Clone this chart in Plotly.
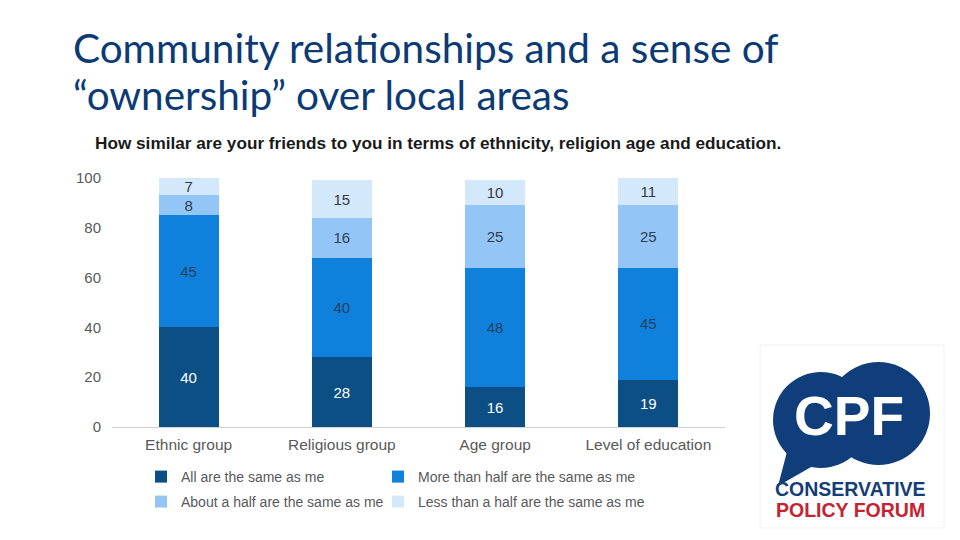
import plotly.graph_objects as go

categories = ["Ethnic group", "Religious group", "Age group", "Level of education"]
series_names = [
    "All are the same as me",
    "More than half are the same as me",
    "About a half are the same as me",
    "Less than a half are the same as me",
]
all_same = [40, 28, 16, 19]
more_than_half = [45, 40, 48, 45]
about_half = [8, 16, 25, 25]
less_than_half = [7, 15, 10, 11]
y_ticks = [0, 20, 40, 60, 80, 100]

colors = ["#0b4f85", "#0f81dd", "#93c6f6", "#d4e8fb"]
text_colors = ["#ffffff", "#23405f", "#2e3d50", "#333a44"]
legend_ids = ["legend", "legend2", "legend3", "legend4"]

W, H = 960, 540
OFF = 8  # page body margin
PL, PR, PT, PB = 112, 725, 178, 427
L, R, T, B = PL - OFF, W - (PR - OFF), PT - OFF, H - (PB - OFF)
PW, PH = W - L - R, H - T - B


def px(x):
    return (x - OFF - L) / PW


def py(y):
    return (H - B - (y - OFF)) / PH


fig = go.Figure()
for name, vals, c, tc, lg in zip(series_names, [all_same, more_than_half, about_half, less_than_half],
                                 colors, text_colors, legend_ids):
    fig.add_trace(go.Bar(
        x=categories, y=vals, name=name, legend=lg,
        marker=dict(color=c, line=dict(width=0)),
        text=vals, texttemplate="%{text}", textposition="inside",
        insidetextanchor="middle", textangle=0,
        textfont=dict(family="Liberation Sans, Arial", size=15, color=tc),
        hoverinfo="skip",
    ))

shapes = []
shapes.append(dict(type="rect", xref="paper", yref="paper",
                   x0=px(760), x1=px(944), y0=py(528), y1=py(345),
                   line=dict(color="#f0f0f0", width=1), fillcolor="rgba(0,0,0,0)"))
navy = "#103e7b"
shapes.append(dict(type="circle", xref="paper", yref="paper",
                   x0=px(773), x1=px(869), y0=py(468), y1=py(372),
                   fillcolor=navy, line=dict(width=0)))
shapes.append(dict(type="circle", xref="paper", yref="paper",
                   x0=px(827), x1=px(930), y0=py(465), y1=py(362),
                   fillcolor=navy, line=dict(width=0)))
tail = [(788, 448), (818, 463), (778, 486)]
path = "M " + " L ".join(f"{px(a):.5f},{py(b):.5f}" for a, b in tail) + " Z"
shapes.append(dict(type="path", xref="paper", yref="paper", path=path,
                   fillcolor=navy, line=dict(width=0)))

title_font = dict(family="Lato", size=40.5, color="#0c3a75")
annotations = [
    dict(text="Community relationships and a sense of",
         xref="paper", yref="paper", x=px(71), y=py(21), xanchor="left", yanchor="top",
         showarrow=False, font=title_font),
    dict(text="“ownership” over local areas",
         xref="paper", yref="paper", x=px(71), y=py(68), xanchor="left", yanchor="top",
         showarrow=False, font=title_font),
    dict(text="<b>How similar are your friends to you in terms of ethnicity, religion age and education.</b>",
         xref="paper", yref="paper", x=px(93), y=py(143), xanchor="left", yanchor="middle",
         showarrow=False, font=dict(family="Liberation Sans, Arial", size=17.2, color="#1a1a1a")),
    dict(text="<b>CPF</b>", xref="paper", yref="paper", x=px(849), y=py(416),
         xanchor="center", yanchor="middle", showarrow=False,
         font=dict(family="Liberation Sans, Arial", size=55, color="#ffffff")),
    dict(text="<b>CONSERVATIVE</b>", xref="paper", yref="paper", x=px(850), y=py(489),
         xanchor="center", yanchor="middle", showarrow=False,
         font=dict(family="Liberation Sans, Arial", size=19.5, color="#153d78")),
    dict(text="<b>POLICY FORUM</b>", xref="paper", yref="paper", x=px(850), y=py(510),
         xanchor="center", yanchor="middle", showarrow=False,
         font=dict(family="Liberation Sans, Arial", size=19.5, color="#c42430")),
]

legend_common = dict(orientation="h", xanchor="left", yanchor="middle",
                     itemclick=False, itemdoubleclick=False,
                     font=dict(family="Liberation Sans, Arial", size=14, color="#595959"),
                     itemwidth=30, bgcolor="rgba(0,0,0,0)")

fig.update_layout(
    width=W, height=H,
    margin=dict(l=L, r=R, t=T, b=B, autoexpand=False),
    paper_bgcolor="#ffffff", plot_bgcolor="#ffffff",
    barmode="stack", bargap=0.61,
    showlegend=True,
    legend=dict(x=px(141), y=py(477), **legend_common),
    legend2=dict(x=px(378), y=py(477), **legend_common),
    legend3=dict(x=px(141), y=py(502), **legend_common),
    legend4=dict(x=px(378), y=py(502), **legend_common),
    uniformtext=dict(minsize=15, mode="show"),
    shapes=shapes, annotations=annotations,
    xaxis=dict(showline=True, linecolor="#d0d0d0", linewidth=1, showgrid=False,
               ticks="", ticklabelstandoff=3,
               tickfont=dict(family="Liberation Sans, Arial", size=15.5, color="#595959"),
               fixedrange=True),
    yaxis=dict(range=[0, 100], tickvals=y_ticks, showgrid=False, zeroline=False, showline=False,
               ticks="", ticklabelstandoff=10,
               tickfont=dict(family="Liberation Sans, Arial", size=15, color="#595959"),
               fixedrange=True),
)

fig.write_html("out.html")
